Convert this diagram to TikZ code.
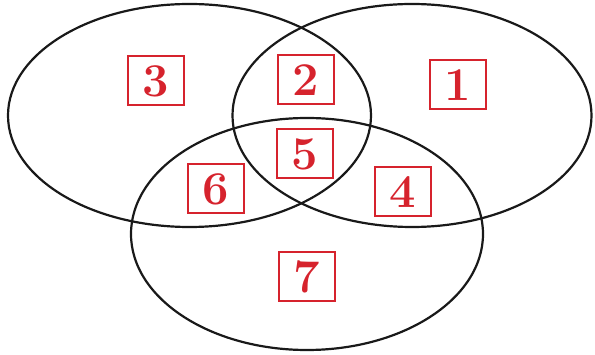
\documentclass[tikz,border=0pt]{standalone}
\usepackage{tikz}
\usetikzlibrary{positioning}

\definecolor{regred}{RGB}{214,35,45}

\begin{document}
\begin{tikzpicture}[
    x=1pt,
    y=-1pt,
    setline/.style={
        draw=black!90,
        line width=2.2pt
    },
    regbox/.style={
        rectangle,
        draw=regred,
        line width=2pt,
        minimum width=56pt,
        minimum height=49pt,
        inner sep=0pt,
        text=regred,
        font=\fontsize{47}{47}\selectfont\bfseries
    }
]

\useasboundingbox (0,0) rectangle (595,355);

% Trzy zbiory
\draw[setline] (189.5,115.5) ellipse [x radius=181.5, y radius=111.5];
\draw[setline] (412,115.5) ellipse [x radius=179.5, y radius=111.5];
\draw[setline] (307,234) ellipse [x radius=176, y radius=116];

% Obszary
\node[regbox] (r3) at (155.5,81) {3};
\node[regbox] (r2) at (306,80) {2};
\node[regbox] (r1) at (458,85) {1};
\node[regbox] (r5) at (305,154) {5};
\node[regbox] (r6) at (215.5,189) {6};
\node[regbox] (r4) at (403,192) {4};
\node[regbox] (r7) at (307,277) {7};

\end{tikzpicture}
\end{document}
